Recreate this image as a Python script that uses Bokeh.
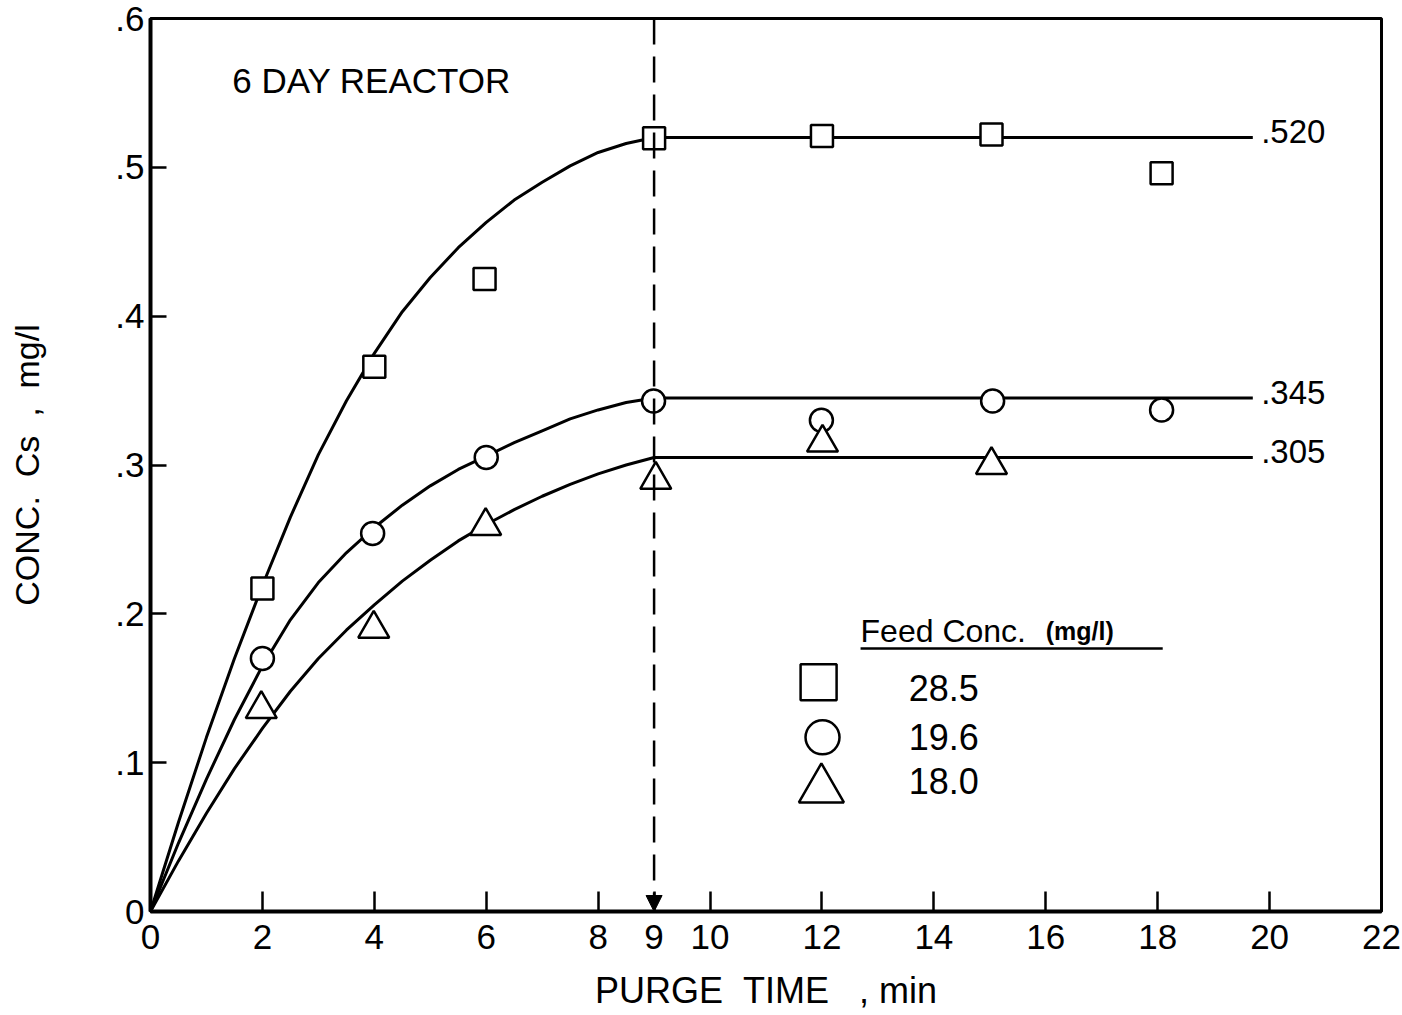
from bokeh.plotting import figure
from bokeh.models import Range1d, FixedTicker, Arrow, NormalHead
from bokeh.core.properties import value
from bokeh.embed import file_html
from bokeh.resources import INLINE

FONT = "Liberation Sans"

# Measured Cs concentration (mg/l) against purge time (min), one series per feed concentration
t_285 = [2.0, 4.0, 5.97, 9.0, 12.0, 15.03, 18.07]
c_285 = [0.217, 0.366, 0.425, 0.5195, 0.521, 0.522, 0.496]

t_196 = [2.0, 3.97, 6.0, 8.99, 11.99, 15.05, 18.07]
c_196 = [0.170, 0.254, 0.305, 0.343, 0.330, 0.343, 0.337]

t_180 = [1.98, 3.99, 5.99, 9.03, 12.01, 15.03]
c_180 = [0.136, 0.190, 0.259, 0.290, 0.315, 0.300]

# Smoothed curves: rise up to the break point, then the plateau
fit_t = [0, 0.5, 1.0, 1.5, 2.0, 2.5, 3.0, 3.5, 4.0, 4.5, 5.0, 5.5, 6.0,
         6.5, 7.0, 7.5, 8.0, 8.5, 9.0, 19.7]
fit_285 = [0, 0.060, 0.117, 0.170, 0.219, 0.265, 0.307, 0.343, 0.375, 0.403,
           0.426, 0.446, 0.463, 0.478, 0.490, 0.501, 0.510, 0.516, 0.520, 0.520]
fit_196 = [0, 0.046, 0.089, 0.129, 0.165, 0.196, 0.221, 0.241, 0.258, 0.273,
           0.286, 0.297, 0.306, 0.315, 0.323, 0.331, 0.337, 0.342, 0.345, 0.345]
fit_180 = [0, 0.034, 0.066, 0.096, 0.123, 0.148, 0.170, 0.189, 0.206, 0.222,
           0.236, 0.249, 0.260, 0.270, 0.279, 0.287, 0.294, 0.300, 0.305, 0.305]

plateau_values = [0.520, 0.345, 0.305]
plateau_labels = [".520", ".345", ".305"]
plateau_end = 19.7

feed_conc = ["28.5", "19.6", "18.0"]
break_time = 9

x_ticks = [0, 2, 4, 6, 8, 9, 10, 12, 14, 16, 18, 20, 22]
x_tick_labels = ["0", "2", "4", "6", "8", "9", "10", "12", "14", "16", "18", "20", "22"]
y_ticks = [0, 0.1, 0.2, 0.3, 0.4, 0.5, 0.6]
y_tick_labels = ["0", ".1", ".2", ".3", ".4", ".5", ".6"]

p = figure(width=1402, height=1015,
           x_range=Range1d(0, 22), y_range=Range1d(0, 0.6),
           output_backend="svg", toolbar_location=None,
           min_border_left=150, min_border_right=21,
           min_border_top=18, min_border_bottom=104)
p.background_fill_color = "white"
p.border_fill_color = "white"
p.outline_line_color = "black"
p.outline_line_width = 3
p.xgrid.visible = False
p.ygrid.visible = False

for ax in (p.xaxis, p.yaxis):
    ax.axis_line_width = 4
    ax.axis_line_color = "black"
    ax.major_tick_line_width = 2.5
    ax.major_tick_line_color = "black"
    ax.major_tick_out = 0
    ax.minor_tick_line_color = None
    ax.major_label_text_font = FONT
    ax.major_label_text_font_size = "35px"
    ax.major_label_text_color = "black"
    ax.axis_label_text_font = FONT
    ax.axis_label_text_font_style = "normal"
    ax.axis_label_text_color = "black"

# the break time (9 min) gets its own label under the arrow
p.xaxis.ticker = FixedTicker(ticks=x_ticks)
p.xaxis.major_label_overrides = dict(zip(x_ticks, x_tick_labels))
p.xaxis.major_tick_in = 20
p.xaxis.major_label_standoff = 13
p.xaxis.axis_label = "PURGE\u00a0\u00a0TIME\u00a0\u00a0\u00a0,\u00a0min"
p.xaxis.axis_label_text_font_size = "36px"
p.xaxis.axis_label_standoff = 18

p.yaxis.ticker = FixedTicker(ticks=y_ticks)
p.yaxis.major_label_overrides = dict(zip(y_ticks, y_tick_labels))
p.yaxis.major_tick_in = 16
p.yaxis.major_label_standoff = 6
p.yaxis.axis_label = "CONC.\u00a0\u00a0Cs\u00a0\u00a0,\u00a0\u00a0mg/l"
p.yaxis.axis_label_text_font_size = "34px"
p.yaxis.axis_label_standoff = 66

# dashed break-point marker with arrow onto the time axis
p.add_layout(Arrow(x_start=break_time, y_start=0.6, x_end=break_time, y_end=0,
                   line_color="black", line_width=2.5, line_dash="26 12",
                   end=NormalHead(size=16, fill_color="black", line_color="black",
                                  line_width=1)))

# fitted curves
for fy in (fit_285, fit_196, fit_180):
    p.line(fit_t, fy, line_color="black", line_width=3)

# plateau value labels
p.text(x=[plateau_end + 0.15] * 3, y=plateau_values, text=plateau_labels,
       text_font=value(FONT), text_font_size="33px", text_baseline="middle",
       text_align="left", y_offset=-6, text_color="black")

# data points
p.scatter(t_285, c_285, marker="square", size=22, line_color="black",
          line_width=2.5, fill_color="white")
p.scatter(t_196, c_196, marker="circle", size=23, line_color="black",
          line_width=2.5, fill_color="white")
p.scatter(t_180, c_180, marker="triangle", size=31, line_color="black",
          line_width=2.5, fill_color="white")

# panel title
p.text(x=[1.46], y=[0.5585], text=["6 DAY REACTOR"], text_font=value(FONT),
       text_font_size="35px", text_baseline="middle", text_align="left",
       text_color="black")

# key for the feed concentrations
p.text(x=[12.69], y=[0.1888], text=["Feed Conc."], text_font=value(FONT),
       text_font_size="32px", text_baseline="middle", text_align="left",
       text_color="black")
p.text(x=[16.0], y=[0.1885], text=["(mg/l)"], text_font=value(FONT),
       text_font_size="25px", text_font_style="bold", text_baseline="middle",
       text_align="left", text_color="black")
p.segment(x0=[12.69], y0=[0.1767], x1=[18.09], y1=[0.1767],
          line_color="black", line_width=2.5)

key_y = [0.154, 0.117, 0.082]
p.scatter([11.94], [key_y[0]], marker="square", size=36, line_color="black",
          line_width=2.5, fill_color="white")
p.scatter([12.01], [key_y[1]], marker="circle", size=34, line_color="black",
          line_width=2.5, fill_color="white")
p.scatter([11.99], [key_y[2]], marker="triangle", size=45, line_color="black",
          line_width=2.5, fill_color="white")
p.text(x=[13.55] * 3, y=[0.1505, 0.117, 0.088], text=feed_conc,
       text_font=value(FONT), text_font_size="36px", text_baseline="middle",
       text_align="left", text_color="black")

open("out.html", "w").write(file_html(p, INLINE))
